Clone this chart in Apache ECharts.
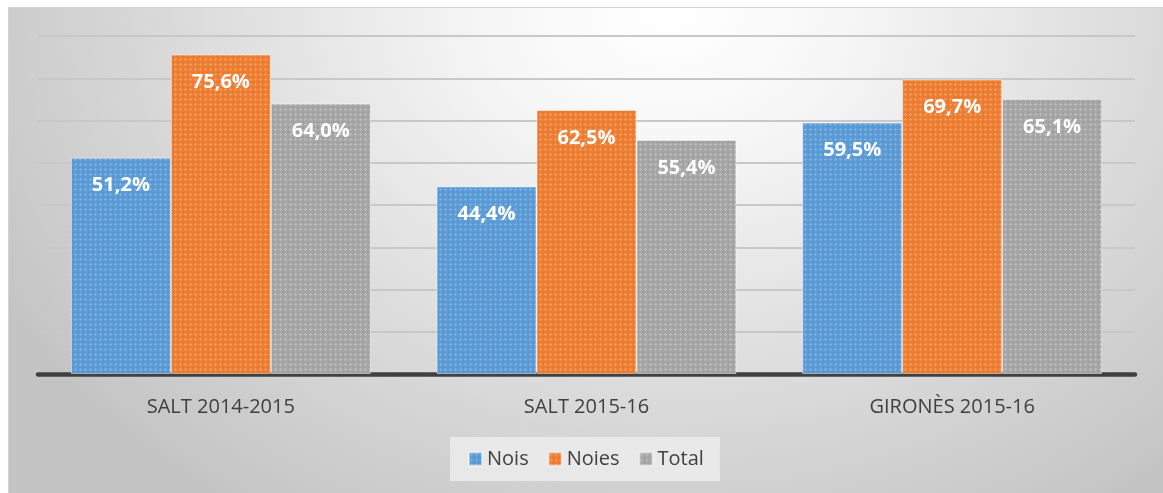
<!DOCTYPE html>
<html>
<head>
<meta charset="utf-8">
<script src="https://cdn.jsdelivr.net/npm/echarts@6/dist/echarts.min.js"></script>
<style>
  html, body { margin: 0; padding: 0; background: #ffffff; }
  #frame {
    position: absolute; left: 8px; top: 7px; width: 1155px; height: 486px;
    border-left: 1px solid #d2d2d2; border-top: 1px solid #d2d2d2;
    box-sizing: border-box;
    background: radial-gradient(ellipse 66% 125% at 57% 0%, #ffffff 0%, #f7f7f7 22%, #dcdcdc 62%, #c4c4c4 100%);
  }
  #chart { position: absolute; left: -1px; top: -1px; width: 1155px; height: 486px; }
</style>
</head>
<body>
<div id="frame"><div id="chart"></div></div>
<script>
// Percentages by group
const categories = ['SALT 2014-2015', 'SALT 2015-16', 'GIRONÈS 2015-16'];
const seriesNames = ['Nois', 'Noies', 'Total'];
const nois = [51.2, 44.4, 59.5];
const noies = [75.6, 62.5, 69.7];
const total = [64.0, 55.4, 65.1];

// Small dotted tile used as the bar fill
function dottedFill(base, light, dark) {
  const c = document.createElement('canvas');
  c.width = 5; c.height = 5;
  const g = c.getContext('2d');
  g.fillStyle = base;
  g.fillRect(0, 0, 5, 5);
  g.fillStyle = light;
  [[2, 1], [1, 2], [2, 2], [3, 2], [2, 3]].forEach(p => g.fillRect(p[0], p[1], 1, 1));
  g.fillStyle = dark;
  g.fillRect(0, 0, 1, 1);
  return { image: c, repeat: 'repeat' };
}

const fills = [
  dottedFill('#5b9bd5', '#7eafdf', '#5193cf'),
  dottedFill('#ed7d31', '#f29a60', '#e3742a'),
  dottedFill('#a5a5a5', '#bbbbbb', '#999999')
];

const fmt = v => v.toFixed(1).replace('.', ',') + '%';
const FONT = 'Open Sans';

function barSeries(name, data, fill) {
  return {
    name: name,
    type: 'bar',
    data: data,
    barGap: '0%',
    barCategoryGap: '18%',
    itemStyle: { color: fill, borderColor: 'rgba(255,255,255,0.45)', borderWidth: 1 },
    label: {
      show: true,
      position: 'insideTop',
      distance: 18,
      color: '#ffffff',
      fontFamily: FONT,
      fontWeight: 'bold',
      fontSize: 20,
      formatter: p => fmt(p.value)
    }
  };
}

const chart = echarts.init(document.getElementById('chart'), null, { renderer: 'canvas' });
chart.setOption({
  animation: false,
  backgroundColor: 'transparent',
  grid: { left: 30, right: 28, top: 29, bottom: 119, containLabel: false },
  legend: {
    data: seriesNames,
    left: 442,
    top: 430,
    width: 273,
    backgroundColor: 'rgba(236,236,236,0.85)',
    padding: [12, 16, 12, 18],
    itemGap: 19,
    itemWidth: 13,
    itemHeight: 13,
    icon: 'rect',
    textStyle: { color: '#404040', fontFamily: FONT, fontSize: 20 }
  },
  xAxis: {
    type: 'category',
    data: categories,
    axisTick: { show: false },
    axisLine: { lineStyle: { color: '#404040', width: 4.5 } },
    axisLabel: { color: '#404040', fontFamily: FONT, fontSize: 20, margin: 23 }
  },
  yAxis: {
    type: 'value',
    min: 0,
    max: 80,
    interval: 10,
    axisLabel: { show: false },
    axisLine: { show: false },
    axisTick: { show: false },
    splitLine: { lineStyle: { color: '#c8c8c8', width: 2 } }
  },
  series: [
    barSeries(seriesNames[0], nois, fills[0]),
    barSeries(seriesNames[1], noies, fills[1]),
    barSeries(seriesNames[2], total, fills[2])
  ]
});
</script>
</body>
</html>
